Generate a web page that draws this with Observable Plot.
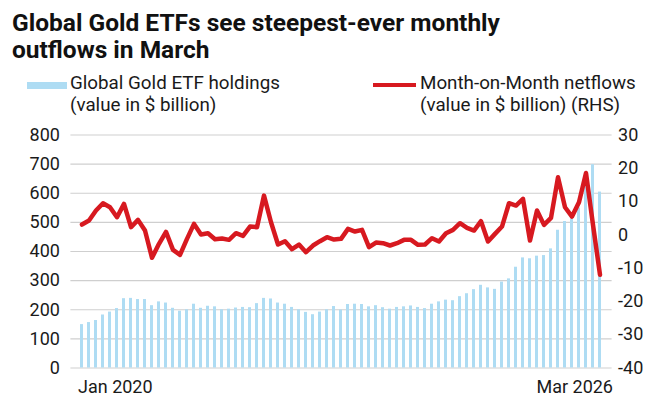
<!DOCTYPE html>
<html>
<head>
<meta charset="utf-8">
<script src="https://cdn.jsdelivr.net/npm/d3@7"></script>
<script src="https://cdn.jsdelivr.net/npm/@observablehq/plot@0.6"></script>
<style>
  html, body { margin: 0; padding: 0; background: #fff; }
  #wrap { position: relative; width: 660px; height: 410px; overflow: hidden; font-family: Roboto, sans-serif; color: #1a1a1a; }
  #head { position: relative; width: 660px; height: 118px; }
  .title { position: absolute; left: 12px; font-size: 24.5px; line-height: 27px; font-weight: 700; color: #111; white-space: nowrap; }
  .leg { position: absolute; font-size: 18.8px; line-height: 22px; white-space: nowrap; color: #1a1a1a; }
  .sw { position: absolute; }
  #chart svg { display: block; }
</style>
</head>
<body>
<div id="wrap">
  <div id="head">
    <div class="title" id="t1" style="top:9px;"></div>
    <div class="title" id="t2" style="top:36px;"></div>
    <div class="sw" id="sw1" style="left:27px; top:82px; width:40px; height:7px; background:#aedcf3;"></div>
    <div class="leg" id="l1a" style="left:70px; top:72px;"></div>
    <div class="leg" id="l1b" style="left:70px; top:94px;"></div>
    <div class="sw" id="sw2" style="left:373px; top:83px; width:43px; height:4px; background:#d71920;"></div>
    <div class="leg" id="l2a" style="left:420px; top:72px;"></div>
    <div class="leg" id="l2b" style="left:420px; top:94px;"></div>
  </div>
  <div id="chart"></div>
</div>
<script>
const titleLines = ["Global Gold ETFs see steepest-ever monthly", "outflows in March"];
const legendHoldings = ["Global Gold ETF holdings", "(value in $ billion)"];
const legendNetflows = ["Month-on-Month netflows", "(value in $ billion) (RHS)"];

// Monthly categories: Jan 2020 .. Mar 2026
const months = d3.utcMonths(new Date(Date.UTC(2020, 0, 1)), new Date(Date.UTC(2026, 3, 1)));

// Global Gold ETF holdings ($ billion), left axis
const holdings = [
  149, 156, 163, 182, 192, 204, 238, 239, 235, 235, 214, 227, 223, 205, 195,
  200, 219, 205, 212, 210, 200, 202, 206, 208, 207, 221, 239, 237, 223, 219,
  208, 200, 191, 183, 192, 200, 211, 199, 218, 219, 218, 210, 214, 207, 202,
  208, 210, 213, 208, 204, 219, 227, 233, 231, 245, 255, 269, 284, 275, 270,
  295, 306, 346, 378, 375, 384, 386, 409, 473, 503, 512, 550, 625, 698, 604
];

// Month-on-month netflows ($ billion), right axis
const netflows = [
  3.1, 4.3, 7.3, 9.5, 8.3, 5.3, 9.3, 2.3, 4.5, 1.3, -6.9, -2.7, 0.9, -4.5, -6.0,
  -1.2, 3.3, 0.1, 0.5, -1.3, -1.1, -1.5, 0.5, -0.3, 2.5, 2.3, 11.8, 3.8, -2.9, -1.9,
  -4.3, -2.9, -5.2, -3.2, -1.9, -0.7, -1.4, -1.2, 1.8, 1.0, 1.5, -3.7, -2.3, -2.5, -3.2,
  -2.5, -1.5, -1.5, -3.0, -2.9, -1.0, -2.0, 0.5, 1.5, 3.5, 2.1, 1.3, 4.1, -2.0, 0.3,
  2.5, 9.5, 8.8, 10.8, -1.7, 7.3, 3.0, 5.1, 17.3, 8.3, 5.5, 9.8, 18.6, 3.0, -12.0
];

const leftTicks = [0, 100, 200, 300, 400, 500, 600, 700, 800];
const rightTicks = [-40, -30, -20, -10, 0, 10, 20, 30];
const xTickLabels = ["Jan 2020", "Mar 2026"];

document.getElementById("t1").textContent = titleLines[0];
document.getElementById("t2").textContent = titleLines[1];
document.getElementById("l1a").textContent = legendHoldings[0];
document.getElementById("l1b").textContent = legendHoldings[1];
document.getElementById("l2a").textContent = legendNetflows[0];
document.getElementById("l2b").textContent = legendNetflows[1];

const data = months.map((m, i) => ({month: m, holdings: holdings[i], netflow: netflows[i]}));
const toLeft = d3.scaleLinear().domain([rightTicks[0], rightTicks[rightTicks.length - 1]]).range([leftTicks[0], leftTicks[leftTicks.length - 1]]);

const chart = Plot.plot({
  width: 660,
  height: 292,
  marginTop: 16.5,
  marginBottom: 42.5,
  marginLeft: 70.4,
  marginRight: 48.4,
  style: {fontFamily: "Roboto, sans-serif", fontSize: "18px", color: "#1a1a1a", background: "#fff", overflow: "visible"},
  x: {type: "band", domain: months, paddingInner: 0.55, paddingOuter: 0.275, axis: null, label: null},
  y: {domain: [0, 800], axis: null, label: null},
  marks: [
    Plot.gridY(leftTicks, {stroke: "#cfcfcf", strokeOpacity: 1, strokeWidth: 1.2}),
    Plot.barY(data, {x: "month", y: "holdings", fill: "#aedcf3"}),
    Plot.line(data, {x: "month", y: d => toLeft(d.netflow), stroke: "#d71920", strokeWidth: 4.5, strokeLinejoin: "round", strokeLinecap: "round"}),
    Plot.axisY(leftTicks, {anchor: "left", tickSize: 0, tickPadding: 11, fontSize: 18, label: null}),
    Plot.axisY(rightTicks.map(v => toLeft(v)), {anchor: "right", tickSize: 0, tickPadding: 6, fontSize: 18, label: null, tickFormat: d => `${Math.round(toLeft.invert(d))}`}),
    Plot.text([months[0]], {x: d => d, frameAnchor: "bottom", textAnchor: "start", lineAnchor: "top", dy: 12, dx: -4, text: () => xTickLabels[0], fontSize: 18, fill: "#1a1a1a"}),
    Plot.text([months[months.length - 1]], {x: d => d, frameAnchor: "bottom", textAnchor: "end", lineAnchor: "top", dy: 12, dx: 13, text: () => xTickLabels[1], fontSize: 18, fill: "#1a1a1a"})
  ]
});
document.getElementById("chart").appendChild(chart);
</script>
</body>
</html>
